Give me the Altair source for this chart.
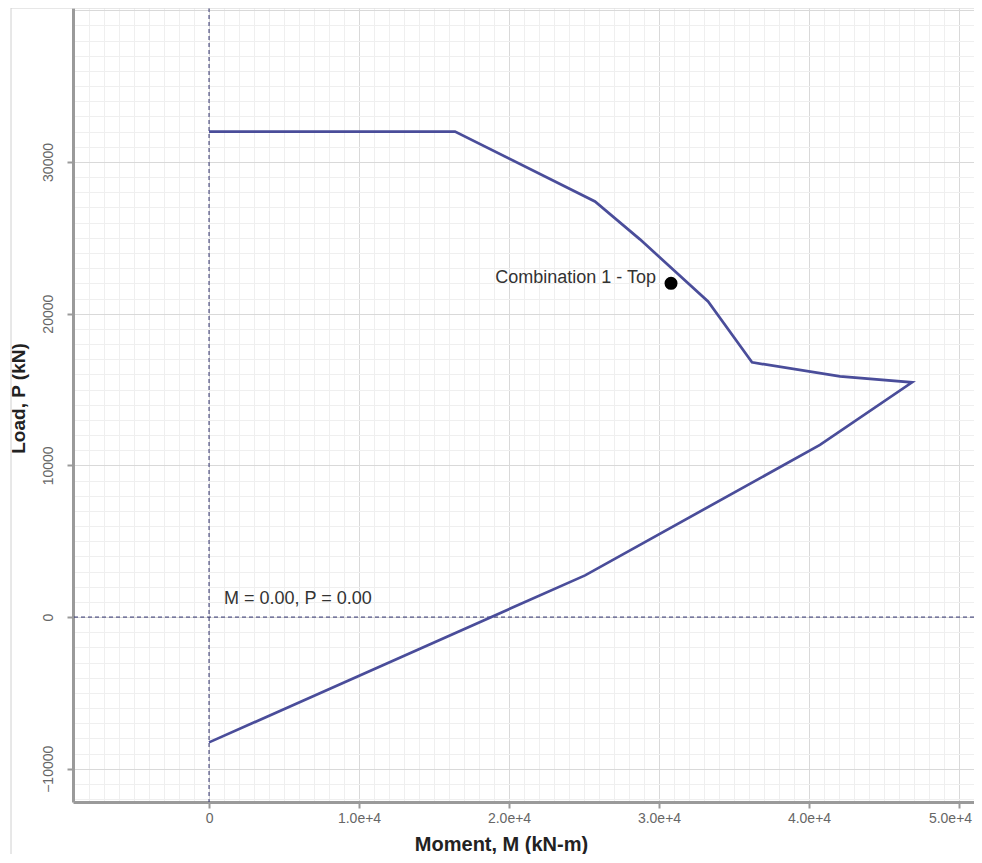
import altair as alt
import pandas as pd

# Interaction curve (Moment M in kN-m, Load P in kN), in drawing order
moment = [0, 16400, 25730, 28730, 33270, 36200, 42070, 46870, 40730, 25070, 0]
load = [32000, 32000, 27400, 24900, 20810, 16790, 15870, 15470, 11350, 2750, -8260]

# Load combination point
combo_label = ["Combination 1 - Top"]
combo_m = [30800]
combo_p = [22000]

# Origin annotation
origin_label = ["M = 0.00, P = 0.00"]
origin_m = [0]
origin_p = [0]

W, H = 901, 794
xdom = [-9070, 51000]
ydom = [-12190, 40150]

curve_df = pd.DataFrame({"M": moment, "P": load, "i": list(range(len(moment)))})
combo_df = pd.DataFrame({"M": combo_m, "P": combo_p, "label": combo_label})
origin_df = pd.DataFrame({"M": origin_m, "P": origin_p, "label": origin_label})

x_vals = list(range(-9000, 51001, 1000))
y_vals = list(range(-12000, 40001, 1000))

major_test = "datum.value % 10000 === 0"
y_tick_test = "datum.value % 10000 === 0 && datum.value <= 30000"
FONT = "Liberation Sans"

xaxis = alt.Axis(
    values=x_vals,
    labelExpr="datum.value % 10000 === 0 ? (datum.value === 0 ? '0' : format(datum.value, '.1e')) : ''",
    labelOverlap=False,
    labelFlush=False,
    labelOffset={"condition": {"test": "datum.value >= 50000", "value": -9}, "value": 0},
    gridColor={"condition": {"test": major_test, "value": "#d9d9d9"}, "value": "#efefef"},
    gridWidth=1,
    tickOpacity={"condition": {"test": major_test, "value": 1}, "value": 0},
    tickSize=6,
    tickWidth=2,
    tickColor="#9a9a9a",
    domainColor="#9a9a9a",
    domainWidth=3,
    labelFont=FONT,
    labelFontSize=14,
    labelColor="#666666",
    labelPadding=3,
    titleFont=FONT,
    titleFontSize=20,
    titleFontWeight="bold",
    titleColor="#222222",
    titleX=428,
    titleY=48,
    titleBaseline="alphabetic",
    titleAlign="center",
)

yaxis = alt.Axis(
    values=y_vals,
    labelExpr="(datum.value % 10000 === 0 && datum.value <= 30000) ? format(datum.value, 'd') : ''",
    labelOverlap=False,
    labelFlush=False,
    labelAngle=270,
    labelAlign="center",
    labelBaseline="bottom",
    gridColor={"condition": {"test": major_test, "value": "#d9d9d9"}, "value": "#efefef"},
    gridWidth=1,
    tickOpacity={"condition": {"test": y_tick_test, "value": 1}, "value": 0},
    tickSize=6,
    tickWidth=2,
    tickColor="#9a9a9a",
    domainColor="#9a9a9a",
    domainWidth=3,
    labelFont=FONT,
    labelFontSize=14,
    labelColor="#666666",
    labelPadding=12,
    titleFont=FONT,
    titleFontSize=19,
    titleFontWeight="bold",
    titleColor="#222222",
    titleAngle=270,
    titleX=-49,
    titleY=390,
    titleBaseline="alphabetic",
    titleAlign="center",
)

X = alt.X("M:Q", scale=alt.Scale(domain=xdom, nice=False, zero=False), axis=xaxis, title="Moment, M (kN-m)")
Y = alt.Y("P:Q", scale=alt.Scale(domain=ydom, nice=False, zero=False), axis=yaxis, title="Load, P (kN)")

vrule = alt.Chart(origin_df).mark_rule(color="#2f316e", strokeDash=[4, 3], strokeWidth=1).encode(x=X)
hrule = alt.Chart(origin_df).mark_rule(color="#2f316e", strokeDash=[4, 3], strokeWidth=1).encode(y=Y)

curve = alt.Chart(curve_df).mark_line(color="#4a4d9a", strokeWidth=2.7).encode(
    x=X, y=Y, order="i:Q"
)

combo_pt = alt.Chart(combo_df).mark_circle(size=170, color="#000000", opacity=1).encode(x=X, y=Y)
combo_txt = alt.Chart(combo_df).mark_text(
    align="right", baseline="middle", dx=-15, dy=-5, font=FONT, fontSize=18, color="#333333"
).encode(x=X, y=Y, text="label:N")

origin_txt = alt.Chart(origin_df).mark_text(
    align="left", baseline="middle", dx=15, dy=-18, font=FONT, fontSize=18, color="#333333"
).encode(x=X, y=Y, text="label:N")

# light frame of the page around the chart
frame_left = alt.Chart(origin_df).mark_rule(color="#d0d0d0", strokeWidth=1).encode(
    x=alt.value(-62), y=alt.value(0), y2=alt.value(H + 60)
)
frame_top = alt.Chart(origin_df).mark_rule(color="#d0d0d0", strokeWidth=1).encode(
    x=alt.value(-62), x2=alt.value(W), y=alt.value(0)
)

chart = alt.layer(
    vrule, hrule, curve, combo_pt, combo_txt, origin_txt, frame_left, frame_top
).properties(
    width=W,
    height=H,
    autosize=alt.AutoSizeParams(type="none"),
    padding={"left": 65, "top": 0, "right": 0, "bottom": 52},
).configure_view(stroke=None)

chart.save("out.html", embed_options={"renderer": "svg", "actions": False})
